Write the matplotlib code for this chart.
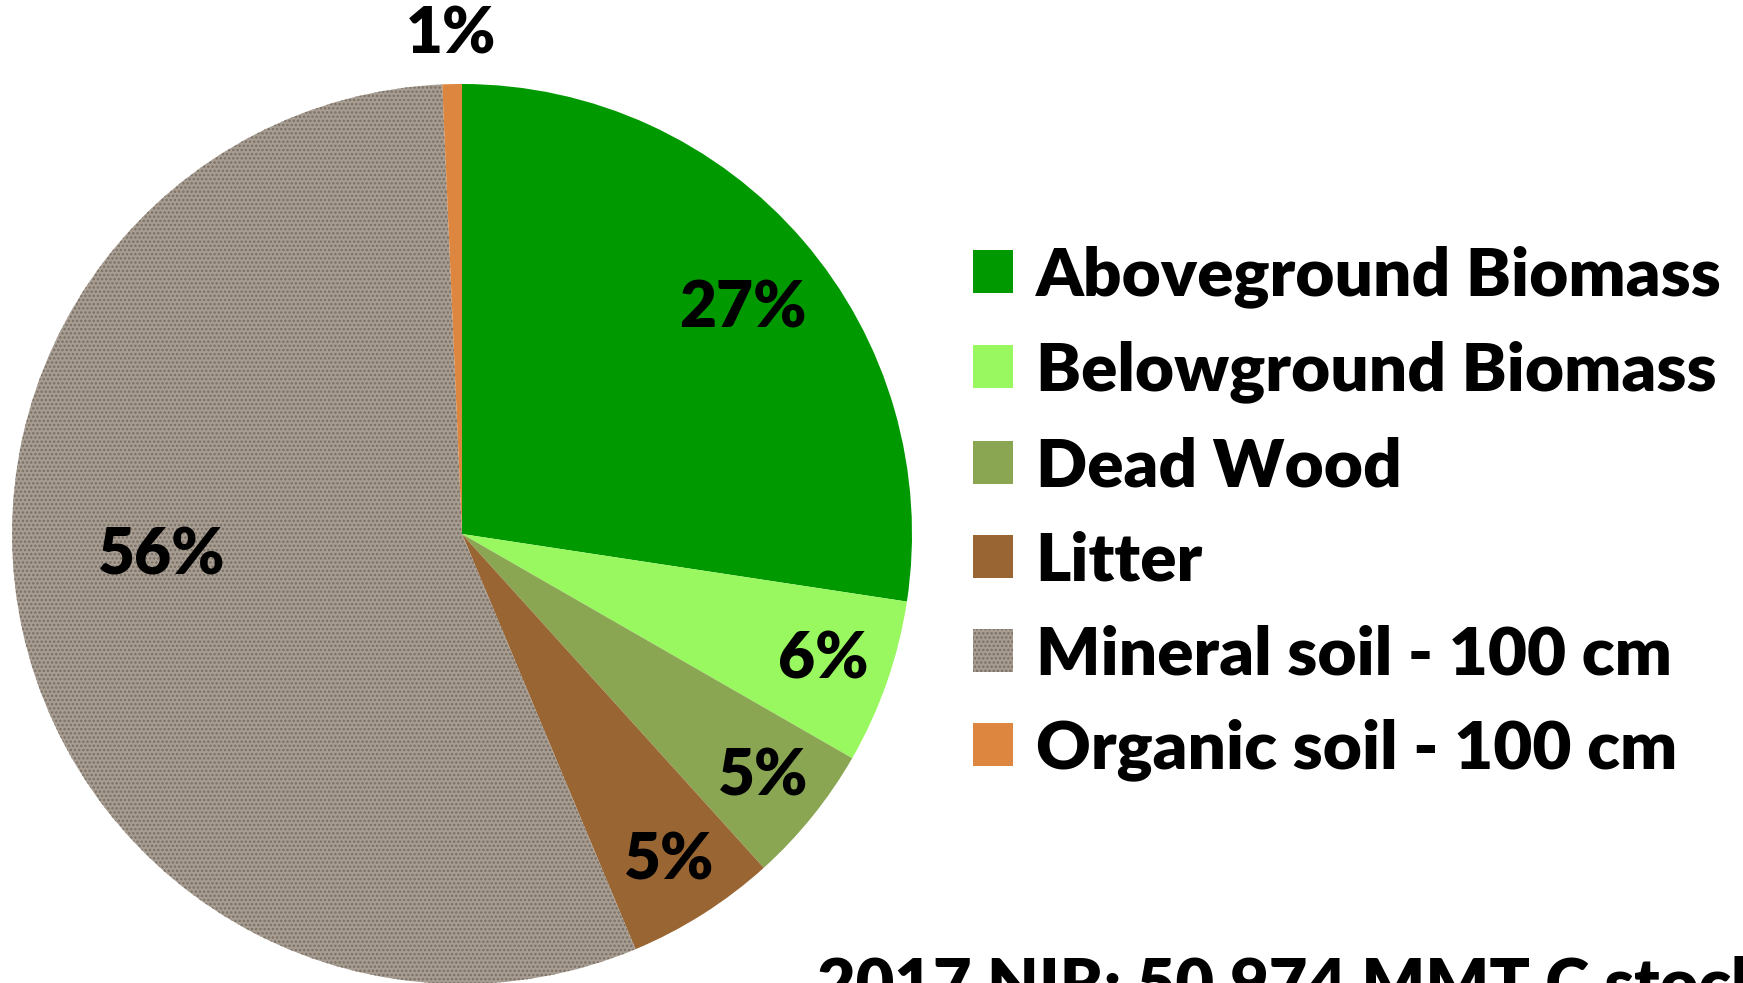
import numpy as np
import matplotlib
matplotlib.use("Agg")
import matplotlib.pyplot as plt

# Datos del grafico (estimados de la imagen)
categorias = ["Aboveground Biomass", "Belowground Biomass", "Dead Wood",
              "Litter", "Mineral soil - 100 cm", "Organic soil - 100 cm"]
valores = [27.4, 5.9, 5.0, 5.4, 55.6, 0.7]
etiquetas = ["27%", "6%", "5%", "5%", "56%", "1%"]
nota = "2017 NIR: 50,974 MMT C stocks"

colores = ["#009900", "#99f75f", "#8aa652", "#996633", "#a89d92", "#dd8640"]
# posicion de las etiquetas: distancia relativa al radio y giro en grados
dist_etiqueta = [0.80, 0.85, 0.86, 0.86, 0.67, 1.11]
giro_etiqueta = [-2, 0, 0, 0, -8.5, 0]

plt.rcParams["font.family"] = ["Lato", "DejaVu Sans"]
plt.rcParams["hatch.linewidth"] = 1.2
peso = "heavy"

W, H = 1743, 983
fig = plt.figure(figsize=(W / 100, H / 100), dpi=100)
ax = fig.add_axes([0, 0, 1, 1])

cx, cy, r = 462, H - 534, 450
cunas, _ = ax.pie(valores, colors=colores, startangle=90, counterclock=False,
                  center=(cx, cy), radius=r, frame=True,
                  wedgeprops=dict(linewidth=0))
ax.set_xlim(0, W)
ax.set_ylim(0, H)
ax.set_aspect("equal")
ax.axis("off")

# textura aproximada para el suelo mineral
cunas[4].set_hatch("....")
cunas[4].set_edgecolor("#7a6f63")
cunas[4].set_linewidth(0)

for cuna, txt, d, g in zip(cunas, etiquetas, dist_etiqueta, giro_etiqueta):
    ang = np.deg2rad((cuna.theta1 + cuna.theta2) / 2 + g)
    ax.text(cx + d * r * np.cos(ang), cy + d * r * np.sin(ang), txt,
            ha="center", va="center", fontsize=46, fontweight=peso)

leg = fig.legend(cunas, categorias, loc="upper left",
                 bbox_to_anchor=(946 / W, 1 - 218 / H), frameon=False,
                 prop=dict(size=48.5, weight=peso),
                 handlelength=0.6, handleheight=0.6,
                 handletextpad=0.33, labelspacing=0.49, borderaxespad=0)

fig.text(817 / W, 1 - 955 / H, nota, ha="left", va="top",
         fontsize=48, fontweight=peso)

fig.savefig("out.png", dpi=100)
